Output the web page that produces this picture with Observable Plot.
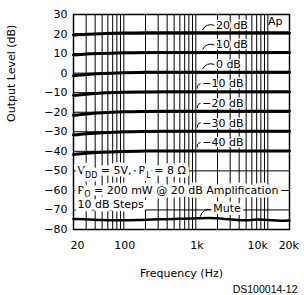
<!DOCTYPE html>
<html><head><meta charset="utf-8">
<script src="https://cdn.jsdelivr.net/npm/d3@7"></script>
<script src="https://cdn.jsdelivr.net/npm/@observablehq/plot@0.6"></script>
<style>body{margin:0;background:#fff}</style>
</head><body><div id="chart"></div>
<script>
// ---- data ----
const freqs = [20, 30, 50, 100, 200, 500, 1000, 5000, 20000];
const level20  = [19.5, 19.9, 20.2, 20.5, 20.6, 20.7, 20.7, 20.7, 20.7];
const level10  = [9.3, 9.8, 10.1, 10.4, 10.6, 10.6, 10.6, 10.6, 10.6];
const level0   = [-1.3, -0.7, -0.2, 0.2, 0.4, 0.5, 0.5, 0.5, 0.5];
const levelM10 = [-11.4, -10.8, -10.2, -9.8, -9.6, -9.5, -9.5, -9.5, -9.5];
const levelM20 = [-21.6, -20.9, -20.3, -19.8, -19.6, -19.5, -19.5, -19.5, -19.5];
const levelM30 = [-31.7, -31.0, -30.5, -30.0, -29.8, -29.7, -29.7, -29.7, -29.7];
const levelM40 = [-41.6, -41.0, -40.5, -40.1, -39.9, -39.8, -39.8, -39.8, -39.8];
const curveLevels = [20, 10, 0, -10, -20, -30, -40];
const curveLabels = ["20 dB", "10 dB", "0 dB", "\u221210 dB", "\u221220 dB", "\u221230 dB", "\u221240 dB"];
const muteFreqs  = [20, 30, 50, 70, 100, 150, 200, 300, 500, 700, 1000, 1500, 2000, 3000, 5000, 7000, 10000, 15000, 20000];
const muteLevels = [-74.6, -74.8, -75.2, -75.3, -75.3, -75.2, -75.0, -74.8, -74.6, -74.5, -74.3, -74.1, -74.3, -74.8, -75.3, -74.9, -75.2, -75.5, -75.4];
const xGrid = [20,30,40,50,60,70,80,90,100,200,300,400,500,600,700,800,900,1000,2000,3000,4000,5000,6000,7000,8000,9000,10000,20000];
const yTicks = [30,20,10,0,-10,-20,-30,-40,-50,-60,-70,-80];
const xTickValues = [20, 100, 1000, 10000, 20000];
const xTickLabels = ["20", "100", "1k", "10k", "20k"];
const noteLines = ["V_DD = 5V,\u00A0 R_L = 8\u00A0\u03A9", "P_O = 200 mW @ 20 dB Amplification", "10 dB Steps"];
const muteLabel = "Mute";
const cornerLabel = "Ap";
const xTitle = "Frequency (Hz)";
const yTitle = "Output Level (dB)";
const docId = "DS100014-12";

// ---- tables built from the arrays ----
const seriesList = [level20, level10, level0, levelM10, levelM20, levelM30, levelM40];
const curveRows = seriesList.flatMap((vals, i) => vals.map((v, j) => ({f: freqs[j], level: v, curve: curveLevels[i]})));
const muteRows = muteFreqs.map((f, i) => ({f, level: muteLevels[i]}));
const xTickRows = xTickValues.map((v, i) => ({v, label: xTickLabels[i]}));
const noteY = [-50, -60, -67.3];
const labelX = v => v >= 0 ? 1900 : 1230;
const leadX1 = v => v >= 0 ? 1250 : 1050;
const leadX2 = v => v >= 0 ? 1780 : 1150;

const tickText = (filter, opts) => Plot.text(xTickRows, {filter, x: "v", text: "label", frameAnchor: "bottom", dy: 16, lineAnchor: "middle", ...opts});

const chart = Plot.plot({
  width: 304, height: 295,
  marginLeft: 73, marginRight: 15, marginTop: 14, marginBottom: 66,
  x: {type: "log", domain: [20, 20000], axis: null},
  y: {domain: [-80, 30], axis: null},
  style: {fontFamily: "'DejaVu Sans', sans-serif", fontSize: "11px", background: "#fff", color: "#000"},
  marks: [
    Plot.ruleX(xGrid, {x: d => d, stroke: "#000", strokeWidth: 1}),
    Plot.ruleY(yTicks, {y: d => d, stroke: "#000", strokeWidth: 1}),
    Plot.line(curveRows, {x: "f", y: "level", z: "curve", curve: "monotone-x", stroke: "#000", strokeWidth: 3}),
    Plot.line(muteRows, {x: "f", y: "level", curve: "monotone-x", stroke: "#000", strokeWidth: 2.5}),
    Plot.frame({stroke: "#000", strokeWidth: 1.5}),
    Plot.text(noteLines, {text: d => d, y: (d, i) => noteY[i], frameAnchor: "left", dx: 4, textAnchor: "start", lineAnchor: "middle", fill: "#000", stroke: "#fff", strokeWidth: 7}),
    Plot.arrow(curveLevels, {x1: leadX1, y1: v => v + 2.3, x2: leadX2, y2: v => v + 4.5, bend: 45, headLength: 0, stroke: "#000", strokeWidth: 1}),
    Plot.text(curveLevels, {x: labelX, y: v => v + 4.5, text: (v, i) => curveLabels[i], textAnchor: "start", lineAnchor: "middle", fill: "#000", stroke: "#fff", strokeWidth: 3}),
    Plot.arrow([muteLabel], {x1: 1160, y1: -73.2, x2: 1600, y2: -69.7, bend: 45, headLength: 0, stroke: "#000", strokeWidth: 1}),
    Plot.text([muteLabel], {x: 1750, y: -69.2, text: d => d, textAnchor: "start", lineAnchor: "middle", fill: "#000", stroke: "#fff", strokeWidth: 6}),
    Plot.text([cornerLabel], {text: d => d, frameAnchor: "top-right", dx: -7, dy: 7, textAnchor: "end", lineAnchor: "middle"}),
    Plot.axisY(yTicks, {tickSize: 0, tickPadding: 6, label: null, tickFormat: d => d < 0 ? "\u2212" + (-d) : String(d)}),
    tickText((d, i) => i === 0, {textAnchor: "start", dx: -3}),
    tickText((d, i) => i === 1 || i === 2, {textAnchor: "middle", dx: 1}),
    tickText((d, i) => i === 3, {textAnchor: "end"}),
    tickText((d, i) => i === 4, {textAnchor: "end", dx: 9.5}),
    Plot.text([xTitle], {text: d => d, frameAnchor: "bottom", dy: 44, lineAnchor: "middle"}),
    Plot.text([yTitle], {text: d => d, frameAnchor: "left", dx: -62, rotate: -90, lineAnchor: "middle"}),
    Plot.text([docId], {text: d => d, frameAnchor: "bottom-right", dx: 8, dy: 60, textAnchor: "end", lineAnchor: "middle", fontFamily: "'Liberation Sans', Arial, sans-serif", fontSize: 10.5})
  ]
});

// subscripts (V_DD, R_L, P_O) as real tspans
chart.querySelectorAll("text").forEach(el => {
  const s = el.textContent;
  if (!s.includes("_")) return;
  while (el.firstChild) el.removeChild(el.firstChild);
  const parts = s.split(/_(\w+)/);
  const NS = "http://www.w3.org/2000/svg";
  parts.forEach((p, k) => {
    if (!p) return;
    const t = document.createElementNS(NS, "tspan");
    t.textContent = p;
    if (k % 2 === 1) { t.setAttribute("dy", "3.5"); t.setAttribute("font-size", "8"); }
    else if (k > 0) { t.setAttribute("dy", "-3.5"); }
    el.appendChild(t);
  });
});

document.getElementById("chart").appendChild(chart);
</script>
</body></html>
